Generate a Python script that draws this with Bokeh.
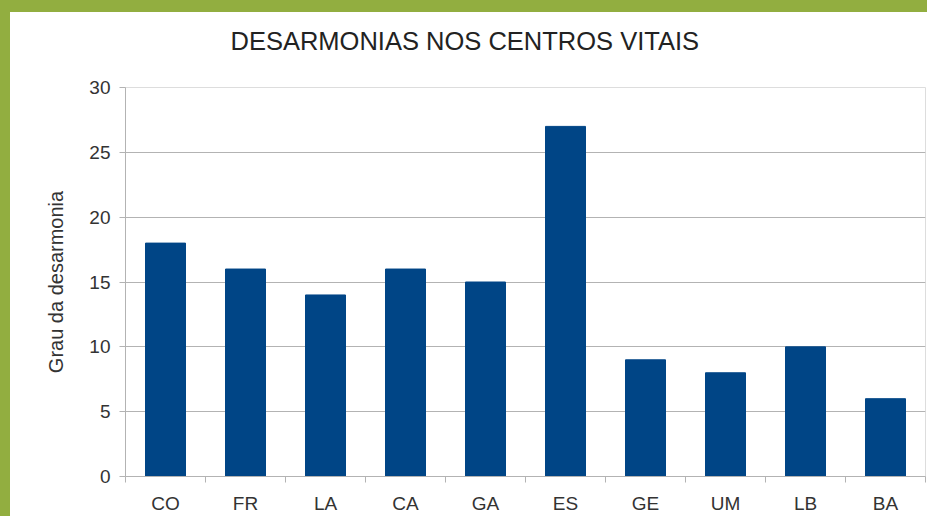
from bokeh.plotting import figure
from bokeh.models import (ColumnDataSource, FactorRange, Range1d, LinearAxis,
                          FixedTicker, GlobalInlineStyleSheet)
from bokeh.embed import file_html
from bokeh.resources import INLINE

# ---- data ----
categories = ["CO", "FR", "LA", "CA", "GA", "ES", "GE", "UM", "LB", "BA"]
values = [18, 16, 14, 16, 15, 27, 9, 8, 10, 6]
y_ticks = [0, 5, 10, 15, 20, 25, 30]
title_text = "DESARMONIAS NOS CENTROS VITAIS"
y_label = "Grau da desarmonia"

FONT = "Liberation Sans"
TEXT = "#333333"
GRID = "#b3b3b3"
BAR = "#004586"
FRAME_GREEN = "#92ae40"

source = ColumnDataSource(data=dict(cat=categories, val=values))

p = figure(width=917, height=504, x_range=FactorRange(factors=categories),
           y_range=Range1d(0, 30), output_backend="svg", toolbar_location=None,
           x_axis_location=None, y_axis_location="left",
           min_border_left=115, min_border_top=75, min_border_bottom=38,
           min_border_right=2, background_fill_color="white",
           border_fill_color="white")
p.styles = {"margin-top": "12px", "margin-left": "10px"}
css = ("html { background-color: #ffffff;"
       " background-image: linear-gradient(%s, %s), linear-gradient(%s, %s);"
       " background-size: 100%% 12px, 10px 100%%; background-repeat: no-repeat;"
       " background-attachment: fixed; }" % ((FRAME_GREEN,) * 4))
p.stylesheets = [GlobalInlineStyleSheet(css=css)]

p.vbar(x="cat", top="val", width=0.5, source=source, fill_color=BAR, line_color=BAR)

# title
p.title.text = title_text
p.title.text_font = FONT
p.title.text_font_size = "25.5px"
p.title.text_font_style = "normal"
p.title.text_color = "#222222"
p.title.align = "left"
p.title.offset = 105
p.title.standoff = 10
p.title.padding = dict(left=0, right=0, top=0, bottom=28)

# y axis
yax = p.yaxis[0]
yax.ticker = FixedTicker(ticks=y_ticks)
yax.axis_label = y_label
yax.axis_label_text_font = FONT
yax.axis_label_text_font_size = "20px"
yax.axis_label_text_font_style = "normal"
yax.axis_label_text_color = TEXT
yax.axis_label_standoff = 19
yax.major_label_text_font = FONT
yax.major_label_text_font_size = "19px"
yax.major_label_text_color = TEXT
yax.major_label_standoff = 9
yax.axis_line_color = GRID
yax.major_tick_line_color = GRID
yax.major_tick_out = 6
yax.major_tick_in = 0
yax.minor_tick_line_color = None

p.ygrid.ticker = FixedTicker(ticks=y_ticks)
p.ygrid.grid_line_color = GRID
p.xgrid.grid_line_color = None
p.outline_line_color = "#dddddd"

# x axis: labels at category centres, small tick marks at category boundaries
n = len(categories)
centres = [i + 0.5 for i in range(n)]
bounds = list(range(n + 1))
xax = LinearAxis(ticker=FixedTicker(ticks=centres, minor_ticks=bounds),
                 major_label_overrides={c: cat for c, cat in zip(centres, categories)},
                 major_label_text_font=FONT, major_label_text_font_size="19px",
                 major_label_text_color=TEXT, major_label_standoff=10,
                 axis_line_color=GRID, major_tick_line_color=None,
                 major_tick_out=0, major_tick_in=0,
                 minor_tick_line_color=GRID, minor_tick_out=6, minor_tick_in=0)
p.add_layout(xax, "below")

open("out.html", "w").write(file_html(p, INLINE))
